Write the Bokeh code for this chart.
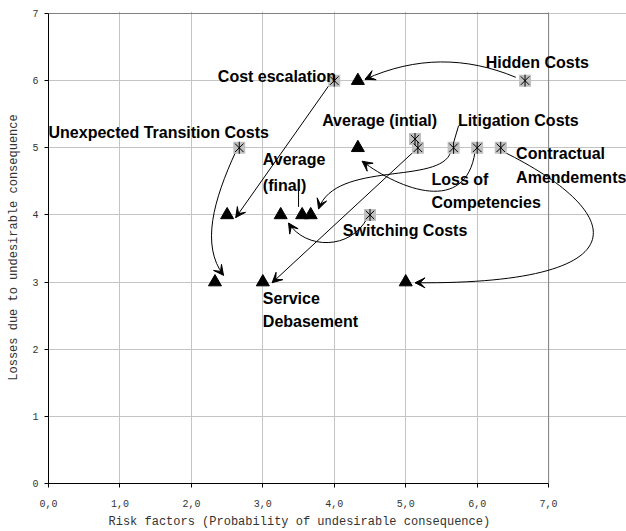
import numpy as np
from bokeh.plotting import figure
from bokeh.models import Range1d, FixedTicker, ColumnDataSource, Arrow, VeeHead, Title
from bokeh.core.properties import value
from bokeh.embed import file_html
from bokeh.resources import INLINE

# ---- data -----------------------------------------------------------------
risks = ["Hidden Costs", "Cost escalation", "Unexpected Transition Costs",
         "Service Debasement", "Litigation Costs", "Loss of Competencies",
         "Contractual Amendements", "Switching Costs"]
initial_prob = [6.67, 4.0, 2.67, 5.17, 5.67, 6.0, 6.33, 4.5]
initial_loss = [6.0, 6.0, 5.0, 5.0, 5.0, 5.0, 5.0, 4.0]
final_prob = [4.33, 2.5, 2.33, 3.0, 3.67, 4.33, 5.0, 3.25]
final_loss = [6.0, 4.0, 3.0, 3.0, 4.0, 5.0, 3.0, 4.0]

average_initial = (5.13, 5.13)
average_final = (3.55, 4.0)

x_ticks = [0, 1, 2, 3, 4, 5, 6, 7]
x_tick_labels = ["0,0", "1,0", "2,0", "3,0", "4,0", "5,0", "6,0", "7,0"]
y_ticks = [0, 1, 2, 3, 4, 5, 6, 7]

X_TITLE = "Risk factors (Probability of undesirable consequence)"
Y_TITLE = "Losses due to undesirable consequence"

# ---- annotation layout (data units) --------------------------------------
# text lines: (text, left x, middle y)
label_lines = [
    ("Hidden Costs", 6.12, 6.27),
    ("Cost escalation", 2.37, 6.06),
    ("Unexpected Transition Costs", 0.0, 5.23),
    ("Average (intial)", 3.83, 5.40),
    ("Litigation Costs", 5.73, 5.40),
    ("Average", 3.0, 4.82),
    ("(final)", 3.0, 4.44),
    ("Contractual", 6.545, 4.92),
    ("Amendements", 6.545, 4.56),
    ("Loss of", 5.36, 4.53),
    ("Competencies", 5.36, 4.19),
    ("Switching Costs", 4.12, 3.77),
    ("Service", 3.0, 2.76),
    ("Debasement", 3.0, 2.42),
]

# movement arrows, one per risk: start offset, control points, end offset
arrow_paths = [
    ((-0.13, 0.05), (5.84, 6.36), (5.14, 6.36), (0.10, 0.02)),
    ((-0.08, -0.08), None, None, (0.12, -0.04)),
    ((-0.05, -0.06), (2.31, 4.22), (2.13, 3.55), (0.12, 0.10)),
    ((-0.06, -0.06), None, None, (0.13, -0.01)),
    ((-0.04, -0.06), (5.49, 4.44), (4.02, 4.82), (0.11, 0.09)),
    ((-0.03, -0.06), (5.84, 4.00), (4.93, 4.37), (0.06, -0.20)),
    ((0.04, -0.06), (8.15, 4.00), (8.29, 2.96), (0.13, -0.01)),
    ((-0.04, -0.05), (4.23, 3.48), (3.60, 3.48), (0.11, -0.12)),
]

PX_X = 71.43   # pixels per unit, horizontal
PX_Y = 67.14   # pixels per unit, vertical

# ---- figure ---------------------------------------------------------------
p = figure(width=626, height=531, output_backend="svg", toolbar_location=None,
           x_range=Range1d(0, 8.09), y_range=Range1d(0, 7.03),
           min_border_left=48, min_border_right=0, min_border_top=11,
           min_border_bottom=48)
p.outline_line_color = None
p.background_fill_color = "white"
p.border_fill_color = "white"

for ax in (p.xaxis[0], p.yaxis[0]):
    ax.bounds = (0, 7)
    ax.axis_line_color = "black"
    ax.axis_line_width = 1
    ax.major_tick_line_color = "black"
    ax.major_tick_out = 4
    ax.major_tick_in = 0
    ax.minor_tick_line_color = None
    ax.major_label_text_font = "Liberation Mono"
    ax.major_label_text_font_size = "10px"
    ax.major_label_text_color = "#333333"
    ax.axis_label_text_font = "Liberation Mono"
    ax.axis_label_text_font_size = "12px"
    ax.axis_label_text_font_style = "normal"
    ax.axis_label_text_color = "#333333"

p.xaxis.ticker = FixedTicker(ticks=x_ticks)
p.xaxis.major_label_overrides = {t: lab for t, lab in zip(x_ticks, x_tick_labels)}
p.yaxis.ticker = FixedTicker(ticks=y_ticks)
p.yaxis.axis_label = Y_TITLE
p.xaxis.major_label_standoff = 12
p.yaxis.major_label_standoff = 6
p.yaxis.axis_label_standoff = 8

# x title centred under the 0..7 span of the axis
p.add_layout(Title(text=X_TITLE, align="left", offset=60, standoff=6,
                   text_font="Liberation Mono", text_font_size="12px",
                   text_font_style="normal", text_color="#333333"), "below")

p.xgrid.ticker = FixedTicker(ticks=x_ticks)
p.ygrid.ticker = FixedTicker(ticks=y_ticks)
p.xgrid.grid_line_color = "#c4c4c4"
p.ygrid.grid_line_color = "#c4c4c4"
p.ygrid.bounds = (0, 7)

# plot-area frame on the top and right
p.segment(x0=[0, 7], y0=[7, 0], x1=[7, 7], y1=[7, 7],
          line_color="#808080", line_width=1)

# ---- arrows ---------------------------------------------------------------
head_x0, head_y0, head_x1, head_y1 = [], [], [], []
for i, (so, c1, c2, eo) in enumerate(arrow_paths):
    sx, sy = initial_prob[i] + so[0], initial_loss[i] + so[1]
    ex, ey = final_prob[i] + eo[0], final_loss[i] + eo[1]
    if c1 is None:
        p.segment(x0=[sx], y0=[sy], x1=[ex], y1=[ey], line_color="black", line_width=1)
        tx, ty = sx, sy
    else:
        p.bezier(x0=[sx], y0=[sy], x1=[ex], y1=[ey],
                 cx0=[c1[0]], cy0=[c1[1]], cx1=[c2[0]], cy1=[c2[1]],
                 line_color="black", line_width=1)
        tx, ty = c2
    dx, dy = (ex - tx) * PX_X, (ey - ty) * PX_Y
    n = np.hypot(dx, dy)
    head_x0.append(ex - 2 * dx / n / PX_X)
    head_y0.append(ey - 2 * dy / n / PX_Y)
    head_x1.append(ex)
    head_y1.append(ey)

heads = ColumnDataSource(dict(xs=head_x0, ys=head_y0, xe=head_x1, ye=head_y1))
p.add_layout(Arrow(x_start="xs", y_start="ys", x_end="xe", y_end="ye", source=heads,
                   line_color="black", line_width=1,
                   end=VeeHead(size=10, fill_color="black", line_color="black",
                               line_width=1)))

# leader lines from labels to their points
p.segment(x0=[average_final[0] - 0.05, 5.74], y0=[average_final[1] + 0.37, 5.33],
          x1=[average_final[0] - 0.05, initial_prob[4] - 0.01],
          y1=[average_final[1] + 0.12, initial_loss[4] + 0.04],
          line_color="black", line_width=1)

# ---- markers --------------------------------------------------------------
ix = initial_prob + [average_initial[0]]
iy = initial_loss + [average_initial[1]]
p.scatter(ix, iy, marker="square", size=12, fill_color="#c0c0c0", line_color=None)
p.scatter(ix, iy, marker="x", size=12, line_color="black", line_width=1)
p.scatter(ix, iy, marker="dash", angle=np.pi / 2, size=12, line_color="black",
          line_width=1)

fx = final_prob + [average_final[0]]
fy = final_loss + [average_final[1]]
p.scatter(fx, fy, marker="triangle", size=13, fill_color="black", line_color="black")

# ---- labels ---------------------------------------------------------------
p.text(x=[l[1] for l in label_lines], y=[l[2] for l in label_lines],
       text=[l[0] for l in label_lines],
       text_font=value("Liberation Sans"), text_font_style="bold",
       text_font_size="16px", text_color="black",
       text_align="left", text_baseline="middle")

open("out.html", "w").write(file_html(p, INLINE))
